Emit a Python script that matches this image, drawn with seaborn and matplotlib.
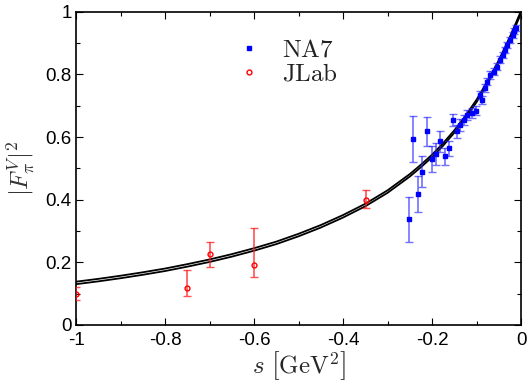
import numpy as np
import matplotlib
matplotlib.use("Agg")
import matplotlib.pyplot as plt
import matplotlib.transforms as mtransforms
from matplotlib.ticker import MultipleLocator, FuncFormatter
import seaborn as sns

# band (centre of the fit band)
s_curve = [-1.0, -0.95, -0.9, -0.85, -0.8, -0.75, -0.7, -0.65, -0.6, -0.55,
           -0.5, -0.45, -0.4, -0.35, -0.3, -0.275, -0.25, -0.225, -0.2, -0.175,
           -0.15, -0.125, -0.1, -0.075, -0.05, -0.025, 0.0]
f_curve = [0.134, 0.143, 0.153, 0.164, 0.176, 0.190, 0.205, 0.222, 0.241, 0.262,
           0.287, 0.315, 0.347, 0.383, 0.426, 0.452, 0.478, 0.508, 0.540, 0.577,
           0.618, 0.664, 0.716, 0.776, 0.842, 0.917, 1.0]
band_half = 0.004

# NA7
na7_s = [-0.252, -0.242, -0.232, -0.222, -0.212, -0.201, -0.192, -0.182, -0.171, -0.162,
         -0.152, -0.143, -0.137, -0.128, -0.122, -0.111, -0.101, -0.092, -0.088, -0.081,
         -0.077, -0.070, -0.062, -0.055, -0.047, -0.041, -0.036, -0.031, -0.025, -0.019,
         -0.015, -0.011]
na7_f = [0.337, 0.594, 0.418, 0.490, 0.618, 0.530, 0.546, 0.586, 0.538, 0.564,
         0.655, 0.618, 0.639, 0.655, 0.671, 0.677, 0.684, 0.735, 0.719, 0.757,
         0.777, 0.799, 0.809, 0.825, 0.847, 0.863, 0.879, 0.895, 0.911, 0.927,
         0.940, 0.949]
na7_err = [0.073, 0.073, 0.058, 0.048, 0.047, 0.040, 0.035, 0.034, 0.027, 0.025,
           0.020, 0.020, 0.018, 0.016, 0.015, 0.015, 0.014, 0.013, 0.013, 0.012,
           0.012, 0.012, 0.011, 0.011, 0.011, 0.010, 0.010, 0.010, 0.010, 0.010,
           0.010, 0.010]

# JLab
jlab_s = [-1.0, -0.75, -0.70, -0.60, -0.349]
jlab_f = [0.099, 0.118, 0.227, 0.190, 0.400]
jlab_lo = [0.020, 0.025, 0.041, 0.036, 0.026]
jlab_hi = [0.022, 0.058, 0.039, 0.120, 0.030]

sns.set_style("ticks")
plt.rcParams["font.family"] = ["Liberation Sans", "DejaVu Sans"]
plt.rcParams["mathtext.fontset"] = "cm"
plt.rcParams["axes.unicode_minus"] = False

fig, ax = plt.subplots(figsize=(5.28, 3.84), dpi=100)
fig.subplots_adjust(left=0.144, right=0.987, bottom=0.154, top=0.969)

lower = np.array(f_curve) - band_half
upper = np.array(f_curve) + band_half
ax.fill_between(s_curve, lower, upper, color="white", zorder=2)
sns.lineplot(x=s_curve, y=lower, color="black", lw=1.3, ax=ax, zorder=3)
sns.lineplot(x=s_curve, y=upper, color="black", lw=1.3, ax=ax, zorder=3)

ax.errorbar(na7_s, na7_f, yerr=na7_err, fmt="none", ecolor=(0.15, 0.15, 1.0, 0.65),
            elinewidth=1.2, capsize=3, capthick=1.0, zorder=4)
ax.errorbar(jlab_s, jlab_f, yerr=[jlab_lo, jlab_hi], fmt="none", ecolor=(1.0, 0.1, 0.1, 0.75),
            elinewidth=1.2, capsize=3, capthick=1.0, zorder=4)
na7_h, = ax.plot(na7_s, na7_f, ls="none", marker="s", ms=2.8, color="blue", zorder=5)
jlab_h, = ax.plot(jlab_s, jlab_f, ls="none", marker="o", ms=3.5, mfc="none",
                  mec="red", mew=1.0, zorder=5)

ax.legend([na7_h, jlab_h], [r"$\mathrm{NA7}$", r"$\mathrm{JLab}$"], loc="upper left",
          bbox_to_anchor=(0.31, 0.99), frameon=False, fontsize=18, handletextpad=0.8,
          labelspacing=0.0, handlelength=1.0, labelcolor="#222222")

ax.set_xlim(-1, 0)
ax.set_ylim(0, 1)
ax.xaxis.set_major_locator(MultipleLocator(0.2))
ax.xaxis.set_minor_locator(MultipleLocator(0.1))
ax.yaxis.set_major_locator(MultipleLocator(0.2))
ax.yaxis.set_minor_locator(MultipleLocator(0.1))
fmt = FuncFormatter(lambda v, p: f"{v:.1f}".rstrip("0").rstrip(".") if abs(v) > 1e-9 else "0")
ax.xaxis.set_major_formatter(fmt)
ax.yaxis.set_major_formatter(fmt)
ax.tick_params(which="both", direction="in", top=True, right=True, labelsize=13.5,
               colors="black", width=0.8)
ax.tick_params(which="major", length=5)
ax.tick_params(which="minor", length=3)
ax.tick_params(axis="y", pad=3)
ax.tick_params(axis="x", pad=5)
for sp in ax.spines.values():
    sp.set_visible(True)
    sp.set_linewidth(1.2)
    sp.set_color("black")

ax.set_ylabel(r"$|F_\pi^V|^2$", fontsize=18, labelpad=6, color="#333333")

# taller brackets if mathtext accepts the empty subscript trick
try:
    ax.set_xlabel(r"$s\ \left[\mathrm{GeV}^{2}_{\ }\right]$", fontsize=18, labelpad=0)
    fig.canvas.draw()
except Exception:
    ax.set_xlabel(r"$s\ \left[\mathrm{GeV}^2\right]$", fontsize=18, labelpad=0)

# lift the "0" on the y axis a little so it clears the "-1" below it
zero_lbl = ax.yaxis.get_major_ticks()[0].label1
zero_lbl.set_transform(zero_lbl.get_transform() +
                       mtransforms.ScaledTranslation(0, 3 / 72, fig.dpi_scale_trans))

fig.savefig("out.png", dpi=100)
